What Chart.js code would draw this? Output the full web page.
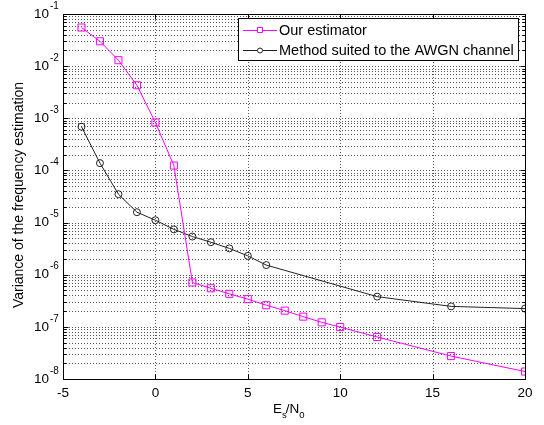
<!DOCTYPE html>
<html>
<head>
<meta charset="utf-8">
<script src="https://cdn.jsdelivr.net/npm/chart.js@4.4.1/dist/chart.umd.min.js"></script>
<style>
  html, body { margin: 0; padding: 0; background: #fff; }
  canvas { display: block; }
</style>
</head>
<body>
<canvas id="chart" width="544" height="425"></canvas>
<script>
// values
const ourSnr = [-4, -3, -2, -1, 0, 1, 2, 3, 4, 5, 6, 7, 8, 9, 10, 12, 16, 20];
const ourVar = [0.055, 0.030, 0.013, 0.0043, 8.3e-4, 1.24e-4, 7.1e-7, 5.5e-7, 4.3e-7, 3.4e-7,
                2.6e-7, 2.05e-7, 1.57e-7, 1.22e-7, 9.9e-8, 6.4e-8, 2.75e-8, 1.39e-8];
const awgnSnr = [-4, -3, -2, -1, 0, 1, 2, 3, 4, 5, 6, 12, 16, 20];
const awgnVar = [6.9e-4, 1.38e-4, 3.5e-5, 1.58e-5, 1.11e-5, 7.4e-6, 5.4e-6, 4.2e-6, 3.2e-6,
                 2.3e-6, 1.53e-6, 3.8e-7, 2.47e-7, 2.24e-7];
const seriesNames = ['Our estimator', 'Method suited to the AWGN channel'];
const xTicks = [-5, 0, 5, 10, 15, 20];
const yExponents = [-8, -7, -6, -5, -4, -3, -2, -1];

const FONT = '"Liberation Sans", Arial, sans-serif';
const MAGENTA = '#ff00ff';
const DARK = '#222222';

// every log tick 1..9 x 10^e
const yTickVals = [];
yExponents.forEach(e => {
  if (e === -1) { yTickVals.push(0.1); return; }
  for (let m = 1; m <= 9; m++) yTickVals.push(Number(m + 'e' + e));
});

function pts(xs, ys) {
  return xs.map((x, i) => ({ x: x, y: ys[i] }));
}

const matlabAxes = {
  id: 'matlabAxes',
  beforeDatasetsDraw(chart) {
    const ctx = chart.ctx, a = chart.chartArea;
    const xs = chart.scales.x, ys = chart.scales.y;
    ctx.save();
    ctx.strokeStyle = '#555';
    ctx.lineWidth = 1;
    ctx.setLineDash([1, 2]);
    xTicks.forEach(v => {
      const px = Math.round(xs.getPixelForValue(v)) + 0.5;
      ctx.beginPath(); ctx.moveTo(px, a.top); ctx.lineTo(px, a.bottom); ctx.stroke();
    });
    yTickVals.forEach(v => {
      const py = Math.round(ys.getPixelForValue(v)) + 0.5;
      ctx.beginPath(); ctx.moveTo(a.left, py); ctx.lineTo(a.right, py); ctx.stroke();
    });
    ctx.restore();
  },
  afterDraw(chart) {
    const ctx = chart.ctx, a = chart.chartArea;
    const xs = chart.scales.x, ys = chart.scales.y;
    ctx.save();
    ctx.setLineDash([]);
    ctx.strokeStyle = '#000';
    ctx.lineWidth = 1;
    const L = Math.round(a.left) + 0.5, R = Math.round(a.right) + 0.5;
    const T = Math.round(a.top) + 0.5, B = Math.round(a.bottom) + 0.5;
    ctx.strokeRect(L, T, R - L, B - T);

    // inward ticks
    ctx.beginPath();
    xTicks.forEach(v => {
      const px = Math.round(xs.getPixelForValue(v)) + 0.5;
      ctx.moveTo(px, B); ctx.lineTo(px, B - 5);
      ctx.moveTo(px, T); ctx.lineTo(px, T + 5);
    });
    yTickVals.forEach(v => {
      const py = Math.round(ys.getPixelForValue(v)) + 0.5;
      const major = Math.abs(Math.log10(v) - Math.round(Math.log10(v))) < 1e-9;
      const len = major ? 5 : 3;
      ctx.moveTo(L, py); ctx.lineTo(L + len, py);
      ctx.moveTo(R, py); ctx.lineTo(R - len, py);
    });
    ctx.stroke();

    // y tick labels 10^e
    ctx.fillStyle = '#000';
    ctx.textBaseline = 'middle';
    yExponents.forEach(e => {
      const py = ys.getPixelForValue(Math.pow(10, e));
      ctx.font = '13.5px ' + FONT;
      ctx.textAlign = 'right';
      ctx.fillText('10', 49, py);
      ctx.font = '10px ' + FONT;
      ctx.textAlign = 'left';
      ctx.fillText(String(e), 50, py - 8);
    });

    // y title
    ctx.save();
    ctx.translate(19, 195);
    ctx.rotate(-Math.PI / 2);
    ctx.font = '14px ' + FONT;
    ctx.textAlign = 'center';
    ctx.textBaseline = 'middle';
    ctx.fillText('Variance of the frequency estimation', 0, 0);
    ctx.restore();

    // x title E_s/N_0
    const parts = [['E', 13.5, 0, 0], ['s', 9.5, 5, 0], ['/N', 13.5, 0, -1], ['0', 9.5, 5, 0]];
    let cx = 273;
    ctx.textAlign = 'left';
    ctx.textBaseline = 'alphabetic';
    parts.forEach(p => {
      ctx.font = p[1] + 'px ' + FONT;
      cx += p[3];
      ctx.fillText(p[0], cx, 413 + p[2]);
      cx += ctx.measureText(p[0]).width;
    });

    // legend
    const lx = 238.5, ly = 18.5, lw = 280, lh = 42;
    ctx.fillStyle = '#fff';
    ctx.fillRect(lx, ly, lw, lh);
    ctx.strokeStyle = '#000';
    ctx.strokeRect(lx, ly, lw, lh);
    const rows = [
      { y: 30, color: MAGENTA, marker: 'rect' },
      { y: 50, color: DARK, marker: 'circle' }
    ];
    rows.forEach((r, i) => {
      ctx.strokeStyle = r.color;
      ctx.beginPath(); ctx.moveTo(243, r.y + 0.5); ctx.lineTo(277, r.y + 0.5); ctx.stroke();
      ctx.fillStyle = '#fff';
      ctx.beginPath();
      if (r.marker === 'rect') ctx.rect(257.5, r.y - 2.5, 5, 5);
      else ctx.arc(260, r.y + 0.5, 2.5, 0, Math.PI * 2);
      ctx.fill(); ctx.stroke();
      ctx.fillStyle = '#000';
      ctx.font = '14.5px ' + FONT;
      ctx.textBaseline = 'middle';
      ctx.fillText(seriesNames[i], 279, r.y + 1);
    });
    ctx.restore();
  }
};

new Chart(document.getElementById('chart'), {
  type: 'line',
  data: {
    datasets: [
      {
        label: seriesNames[0],
        data: pts(ourSnr, ourVar),
        borderColor: MAGENTA,
        borderWidth: 1,
        pointStyle: 'rect',
        pointRadius: 5,
        pointBorderColor: MAGENTA,
        pointBackgroundColor: 'rgba(255,255,255,0)',
        pointBorderWidth: 1,
        tension: 0
      },
      {
        label: seriesNames[1],
        data: pts(awgnSnr, awgnVar),
        borderColor: DARK,
        borderWidth: 1,
        pointStyle: 'circle',
        pointRadius: 3.5,
        pointBorderColor: DARK,
        pointBackgroundColor: 'rgba(255,255,255,0)',
        pointBorderWidth: 1,
        tension: 0
      }
    ]
  },
  options: {
    responsive: false,
    animation: false,
    layout: { padding: { top: 14, right: 19, left: 0, bottom: 0 } },
    plugins: { legend: { display: false }, tooltip: { enabled: false } },
    scales: {
      x: {
        type: 'linear', min: -5, max: 20,
        afterBuildTicks: s => { s.ticks = xTicks.map(v => ({ value: v })); },
        afterFit: s => { s.height = 46; },
        grid: { display: false, drawTicks: false },
        border: { display: false },
        ticks: { font: { family: FONT, size: 13.5 }, color: '#000', padding: 6, maxRotation: 0 }
      },
      y: {
        type: 'logarithmic', min: 1e-8, max: 1e-1,
        afterBuildTicks: s => { s.ticks = yTickVals.map(v => ({ value: v })); },
        afterFit: s => { s.width = 63; },
        grid: { display: false },
        border: { display: false },
        ticks: { display: false }
      }
    }
  },
  plugins: [matlabAxes]
});
</script>
</body>
</html>
